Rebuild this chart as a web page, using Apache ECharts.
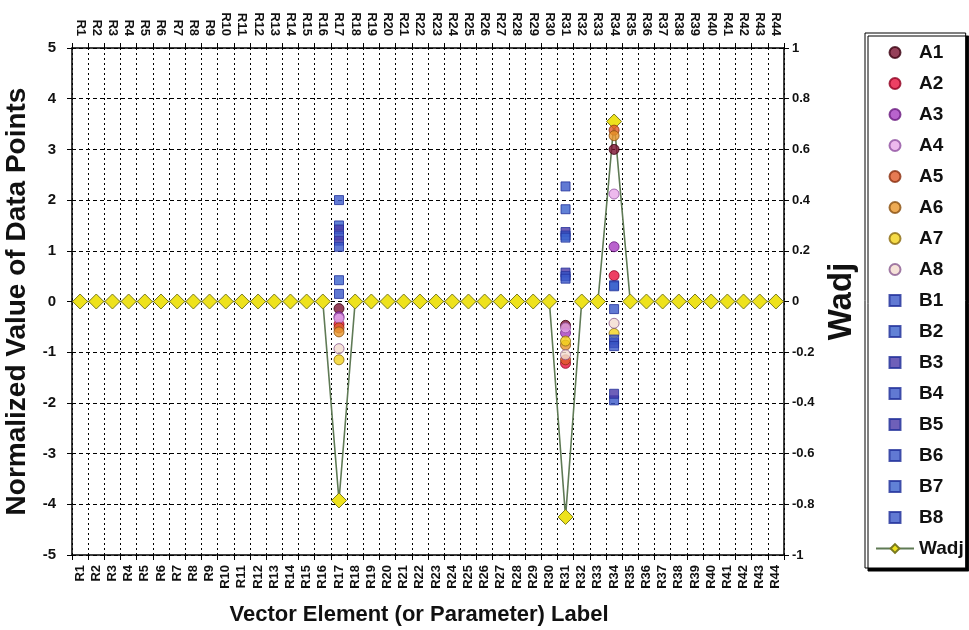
<!DOCTYPE html>
<html>
<head>
<meta charset="utf-8">
<script src="https://cdn.jsdelivr.net/npm/echarts@6/dist/echarts.min.js"></script>
<style>
html,body{margin:0;padding:0;background:#fff;}
#chart{width:969px;height:630px;}
</style>
</head>
<body>
<div id="chart"></div>
<script>
const categories = ['R1','R2','R3','R4','R5','R6','R7','R8','R9','R10','R11','R12','R13','R14','R15','R16','R17','R18','R19','R20','R21','R22','R23','R24','R25','R26','R27','R28','R29','R30','R31','R32','R33','R34','R35','R36','R37','R38','R39','R40','R41','R42','R43','R44'];
const markedCats = ['R17','R31','R34'];
const A1 = [-0.14, -0.47, 3.0];
const A2 = [-0.45, -1.22, 0.51];
const A3 = [-0.3, -0.62, 1.08];
const A4 = [-0.33, -0.52, 2.12];
const A5 = [-0.52, -1.15, 3.38];
const A6 = [-0.6, -0.86, 3.27];
const A7 = [-1.15, -0.78, -0.63];
const A8 = [-0.93, -1.05, -0.43];
const B1 = [2.0, 2.27, -1.95];
const B2 = [1.5, 1.82, 0.32];
const B3 = [1.42, 1.37, -0.82];
const B4 = [1.3, 1.3, -0.15];
const B5 = [1.2, 0.57, -1.82];
const B6 = [1.08, 0.5, -0.75];
const B7 = [0.42, 1.26, 0.3];
const B8 = [0.15, 0.45, -0.88];
const Wadj = [0,0,0,0,0,0,0,0,0,0,0,0,0,0,0,0,-0.785,0,0,0,0,0,0,0,0,0,0,0,0,0,-0.85,0,0,0.71,0,0,0,0,0,0,0,0,0,0];
const leftTicks = {min:-5, max:5, interval:1};
const rightTicks = {min:-1, max:1, interval:0.2};

const FONT = 'Liberation Sans, Arial, sans-serif';
const SQUARE = 'path://M0,0L10,0L10,10L0,10Z';
const aSeries = [
  ['A1', A1, '#7a1030', '#3a0010'],
  ['A2', A2, '#e8103c', '#900020'],
  ['A3', A3, '#a83cc0', '#6a1a80'],
  ['A4', A4, '#e8a8e8', '#9050a0'],
  ['A5', A5, '#e05a28', '#8a3010'],
  ['A6', A6, '#e8962a', '#8a5010'],
  ['A7', A7, '#f2d21a', '#8a6a10'],
  ['A8', A8, '#f4dcd0', '#8a5a90']
];
const bSeries = [
  ['B1', B1, '#3a58c8'],
  ['B2', B2, '#3a62cc'],
  ['B3', B3, '#4a38a8'],
  ['B4', B4, '#3a58c8'],
  ['B5', B5, '#4a38a8'],
  ['B6', B6, '#3a58c8'],
  ['B7', B7, '#3a62cc'],
  ['B8', B8, '#3a58c8']
];
const series = [];
aSeries.forEach(([name, vals, fill, border]) => {
  series.push({
    name, type:'scatter', xAxisIndex:0, yAxisIndex:0,
    symbol:'circle', symbolSize:10, z:3,
    itemStyle:{color:fill, borderColor:border, borderWidth:1},
    data: markedCats.map((c,i)=>[c, vals[i]])
  });
});
bSeries.forEach(([name, vals, fill]) => {
  series.push({
    name, type:'scatter', xAxisIndex:0, yAxisIndex:0,
    symbol:SQUARE, symbolSize:9, symbolKeepAspect:true, z:3,
    itemStyle:{color:fill, borderColor:'#20309a', borderWidth:1},
    data: markedCats.map((c,i)=>[c, vals[i]])
  });
});
series.push({
  name:'Wadj', type:'line', xAxisIndex:0, yAxisIndex:1, z:2,
  symbol:'diamond', symbolSize:[15,15], showSymbol:true,
  lineStyle:{color:'#5f7a55', width:1.6},
  itemStyle:{color:'#eee21c', borderColor:'#7a7a20', borderWidth:1},
  data: Wadj
});

const labelStyle = {fontFamily:FONT, fontWeight:'bold', color:'#111'};
const chart = echarts.init(document.getElementById('chart'), null, {renderer:'canvas'});
chart.setOption({
  animation:false,
  backgroundColor:'#fff',
  grid:{left:72, right:185, top:48, bottom:75, containLabel:false, outerBoundsMode:'none'},
  legend:{
    orient:'vertical', left:865, top:33, height:560,
    padding:[10,2,10,10], itemWidth:38, itemHeight:11, itemGap:12,
    symbolKeepAspect:true,
    backgroundColor:'#fff', borderColor:'#000', borderWidth:1,
    shadowColor:'#000', shadowBlur:0, shadowOffsetX:3, shadowOffsetY:3,
    textStyle:{fontFamily:FONT, fontWeight:'bold', fontSize:19, color:'#111'},
    data: series.map(s=>s.name)
  },
  xAxis:[
    {
      type:'category', data:categories, position:'bottom', boundaryGap:true,
      name:'Vector Element (or Parameter) Label', nameLocation:'middle', nameGap:49,
      nameTextStyle:Object.assign({fontSize:22, padding:[0,18,0,0]}, labelStyle),
      axisLine:{onZero:false, lineStyle:{color:'#000', width:1.5}},
      axisTick:{show:true, length:5, lineStyle:{color:'#000'}},
      axisLabel:Object.assign({interval:0, rotate:90, fontSize:13, margin:10}, labelStyle),
      splitLine:{show:true, lineStyle:{color:'#000', type:[2,3], width:1}}
    },
    {
      type:'category', data:categories, position:'top', boundaryGap:true,
      axisLine:{onZero:false, lineStyle:{color:'#000', width:1.5}},
      axisTick:{show:true, length:5, lineStyle:{color:'#000'}},
      axisLabel:Object.assign({interval:0, rotate:90, fontSize:13, margin:12}, labelStyle),
      splitLine:{show:false}
    }
  ],
  yAxis:[
    {
      type:'value', position:'left', min:leftTicks.min, max:leftTicks.max, interval:leftTicks.interval,
      name:'Normalized Value of Data Points', nameLocation:'middle', nameGap:33, nameRotate:90,
      nameTextStyle:Object.assign({fontSize:28}, labelStyle),
      axisLine:{show:true, onZero:false, lineStyle:{color:'#000', width:1.5}},
      axisTick:{show:true, length:5, lineStyle:{color:'#000'}},
      axisLabel:Object.assign({fontSize:15, margin:16}, labelStyle),
      splitLine:{show:true, lineStyle:{color:'#000', type:[4,3], width:1.1}}
    },
    {
      type:'value', position:'right', min:rightTicks.min, max:rightTicks.max, interval:rightTicks.interval,
      name:'Wadj', nameLocation:'middle', nameGap:40, nameRotate:90,
      nameTextStyle:Object.assign({fontSize:33}, labelStyle),
      axisLine:{show:true, onZero:false, lineStyle:{color:'#000', width:1.5}},
      axisTick:{show:true, length:5, lineStyle:{color:'#000'}},
      axisLabel:Object.assign({fontSize:13, margin:8}, labelStyle),
      splitLine:{show:false}
    }
  ],
  series
});
</script>
</body>
</html>
